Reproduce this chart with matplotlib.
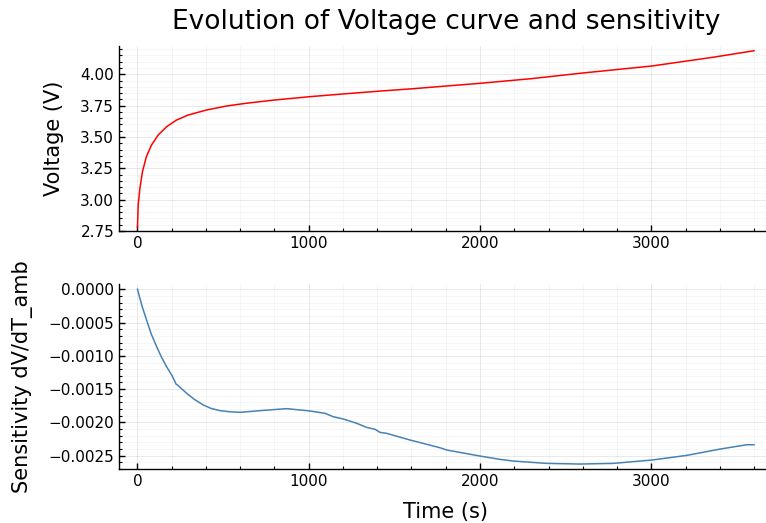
import matplotlib
matplotlib.use("Agg")
import matplotlib.pyplot as plt
from matplotlib.ticker import MultipleLocator, FuncFormatter, AutoMinorLocator

# Voltage curve
t_v = [0, 4, 14, 29, 52, 82, 121, 170, 228, 296, 403, 520, 636, 802, 1002,
       1200, 1416, 1600, 2000, 2300, 2584, 3003, 3362, 3600]
volt = [2.78, 2.957, 3.09, 3.223, 3.343, 3.436, 3.516, 3.582, 3.635, 3.675,
        3.715, 3.747, 3.769, 3.795, 3.821, 3.843, 3.866, 3.884, 3.928, 3.965,
        4.008, 4.066, 4.136, 4.188]

# Sensitivity dV/dT_amb
t_s = [0, 25, 53, 80, 112, 140, 170, 200, 219, 225, 230, 287, 330, 384, 430,
       482, 540, 599, 715, 871, 949, 1007, 1095, 1143, 1202, 1280, 1338, 1387,
       1416, 1455, 1591, 1766, 1805, 2000, 2117, 2194, 2389, 2584, 2778, 3003,
       3207, 3402, 3558, 3600]
sens = [0.0, -0.00024, -0.000461, -0.00067, -0.000862, -0.00102, -0.001163,
        -0.00129, -0.001388, -0.001425, -0.00143, -0.001562, -0.00165,
        -0.001738, -0.00179, -0.001823, -0.00184, -0.001848, -0.001823,
        -0.001793, -0.001813, -0.001828, -0.001863, -0.001914, -0.001949,
        -0.002013, -0.002074, -0.002103, -0.002149, -0.002164, -0.002264,
        -0.00238, -0.002414, -0.002505, -0.002555, -0.00258, -0.002615,
        -0.002625, -0.002615, -0.002565, -0.002495, -0.0024, -0.002335,
        -0.002335]

x_major = [0, 1000, 2000, 3000]
v_ticks = [2.75, 3.00, 3.25, 3.50, 3.75, 4.00]
s_ticks = [0.0, -0.0005, -0.0010, -0.0015, -0.0020, -0.0025]

W, H = 766, 523
fig = plt.figure(figsize=(W / 100, H / 100), dpi=100)
plt.rcParams['font.family'] = ['DejaVu Sans']

def pos(left, right, top, bottom):
    return [left / W, 1 - bottom / H, (right - left) / W, (bottom - top) / H]

ax1 = fig.add_axes(pos(119, 772.5, 45.7, 231))
ax2 = fig.add_axes(pos(119, 772.5, 284.3, 469.3))

ax1.plot(t_v, volt, color="#ff0000", lw=1.1)
ax2.plot(t_s, sens, color="#4682b4", lw=1.1)

def fmt(d):
    def f(v, p):
        s = f"{abs(v):.{d}f}"
        return ("\u2212" + s) if v < -1e-12 else s
    return FuncFormatter(f)

for ax in (ax1, ax2):
    ax.set_xlim(-108, 3708)
    ax.set_xticks(x_major)
    ax.xaxis.set_minor_locator(MultipleLocator(200))
    ax.yaxis.set_minor_locator(AutoMinorLocator(5))
    for s in ("top", "right"):
        ax.spines[s].set_visible(False)
    for s in ("left", "bottom"):
        ax.spines[s].set_linewidth(1.0)
    ax.tick_params(which="major", direction="in", length=4, width=1,
                   labelsize=11, colors="black")
    ax.tick_params(which="minor", direction="in", length=2, width=0.8)
    ax.grid(which="major", color="black", alpha=0.1, lw=0.6)
    ax.grid(which="minor", color="black", alpha=0.05, lw=0.5)
    ax.set_axisbelow(True)

ax1.set_ylim(2.75, 4.228)
ax1.set_yticks(v_ticks)
ax1.yaxis.set_major_formatter(fmt(2))
ax1.set_ylabel("Voltage (V)", fontsize=15, labelpad=12)
ax1.set_title("Evolution of Voltage curve and sensitivity", fontsize=19, pad=12)

ax2.set_ylim(-0.002704, 0.0000751)
ax2.set_yticks(s_ticks)
ax2.yaxis.set_major_formatter(fmt(4))
ax2.set_ylabel("Sensitivity dV/dT_amb", fontsize=15, labelpad=11)
ax2.set_xlabel("Time (s)", fontsize=15, labelpad=9)

fig.savefig("out.png", dpi=100)
